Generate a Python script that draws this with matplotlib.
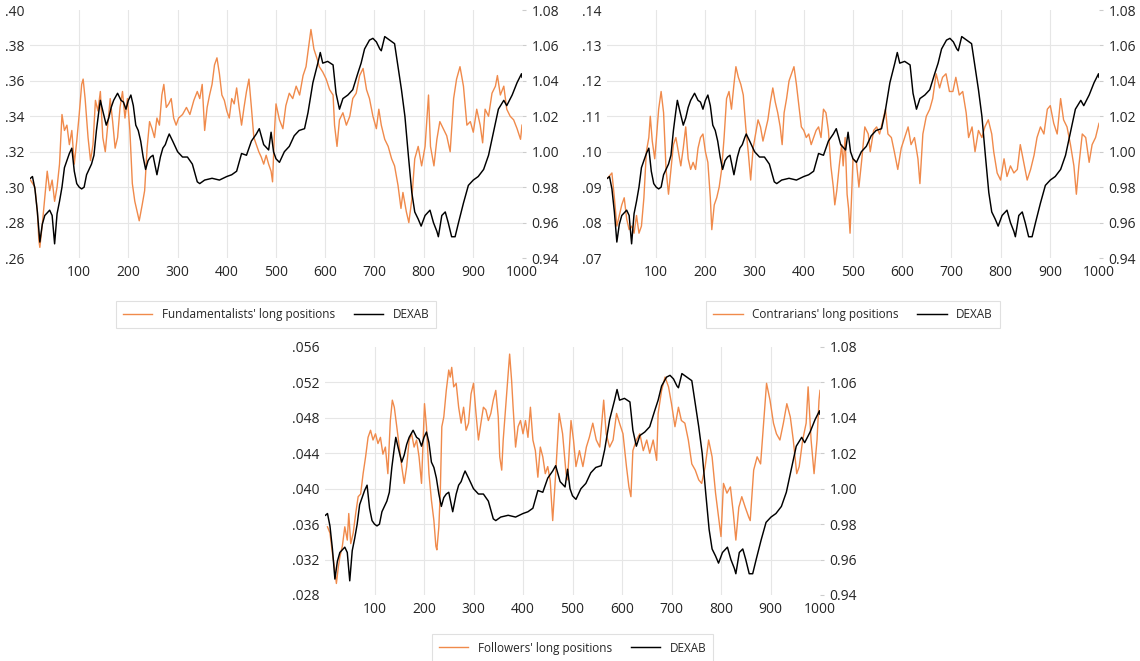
import numpy as np
import matplotlib.pyplot as plt
from matplotlib.lines import Line2D

plt.rcParams['font.family'] = ['Open Sans', 'DejaVu Sans']

ORANGE = '#F08A4B'
GRID = '#e6e6e6'
TEXT = '#262626'

# DEXAB exchange rate (same series in all three panels, right axis)
dexab_x = [1, 5, 10, 15, 20, 25, 30, 40, 45, 50, 55, 60, 65, 70, 80, 85, 90, 95, 100, 105,
           110, 115, 120, 125, 130, 135, 140, 143, 148, 155, 160, 165, 170, 178, 185, 190, 195, 200, 205, 210,
           215, 220, 225, 230, 235, 240, 245, 250, 255, 258, 265, 270, 275, 280, 283, 290, 300, 310, 320, 330,
           340, 345, 355, 370, 385, 400, 410, 420, 430, 440, 450, 460, 466, 475, 485, 490, 495, 500, 507, 517,
           527, 537, 547, 558, 565, 575, 585, 590, 595, 605, 616, 622, 629, 636, 646, 656, 666, 673, 680, 690,
           697, 704, 711, 714, 721, 731, 741, 748, 755, 762, 769, 776, 782, 789, 795, 803, 813, 820, 827, 830,
           837, 844, 850, 857, 864, 871, 881, 891, 901, 911, 922, 932, 942, 952, 963, 969, 980, 990, 999, 1000]
dexab_y = [0.985, 0.986, 0.979, 0.966, 0.949, 0.959, 0.964, 0.967, 0.964, 0.948, 0.965, 0.972, 0.980, 0.991, 0.999, 1.002, 0.989, 0.982, 0.980, 0.979,
           0.980, 0.987, 0.990, 0.993, 0.998, 1.012, 1.023, 1.029, 1.023, 1.015, 1.019, 1.025, 1.029, 1.033, 1.029, 1.028, 1.024, 1.029, 1.032, 1.026,
           1.015, 1.012, 1.006, 0.997, 0.990, 0.995, 0.997, 0.998, 0.991, 0.987, 0.997, 1.002, 1.004, 1.008, 1.010, 1.006, 1.000, 0.997, 0.997, 0.993,
           0.983, 0.982, 0.984, 0.985, 0.984, 0.986, 0.987, 0.989, 0.999, 0.998, 1.006, 1.010, 1.013, 1.004, 1.001, 1.011, 1.000, 0.996, 0.994, 1.000,
           1.003, 1.009, 1.012, 1.013, 1.022, 1.039, 1.050, 1.056, 1.050, 1.051, 1.049, 1.033, 1.024, 1.030, 1.032, 1.035, 1.044, 1.050, 1.058, 1.063,
           1.064, 1.062, 1.058, 1.057, 1.065, 1.063, 1.061, 1.048, 1.035, 1.020, 0.998, 0.977, 0.966, 0.962, 0.958, 0.964, 0.967, 0.960, 0.955, 0.952,
           0.964, 0.966, 0.960, 0.952, 0.952, 0.960, 0.971, 0.981, 0.984, 0.986, 0.990, 0.998, 1.011, 1.024, 1.029, 1.026, 1.032, 1.039, 1.044, 1.042]

# Fundamentalists' long positions
fund_x = [1, 10, 15, 18, 20, 25, 30, 35, 40, 45, 50, 55, 60, 65, 70, 75, 80, 85, 90, 95,
          100, 105, 108, 112, 118, 123, 128, 133, 138, 143, 148, 153, 158, 163, 168, 173, 178, 183, 188, 193,
          198, 203, 208, 213, 218, 222, 228, 233, 238, 243, 248, 253, 258, 263, 268, 272, 277, 282, 287, 292,
          297, 302, 310, 318, 325, 333, 340, 345, 350, 355, 360, 365, 370, 375, 380, 385, 390, 395, 400, 405,
          410, 415, 420, 425, 430, 435, 440, 445, 450, 455, 460, 465, 470, 475, 480, 485, 490, 493, 497, 500,
          507, 514, 520, 527, 534, 541, 548, 555, 561, 568, 571, 577, 584, 588, 595, 602, 609, 616, 619, 624,
          629, 636, 643, 650, 656, 663, 670, 677, 684, 690, 697, 704, 709, 714, 721, 728, 735, 741, 748, 754,
          758, 765, 770, 776, 782, 789, 796, 803, 810, 814, 821, 827, 833, 840, 847, 854, 861, 867, 874, 881,
          888, 895, 901, 908, 915, 920, 925, 932, 939, 946, 950, 956, 963, 969, 976, 983, 990, 997, 1000]
fund_y = [.304, .300, .286, .270, .266, .279, .294, .309, .298, .304, .292, .300, .313, .341, .332, .335, .324, .332, .313, .326,
          .341, .358, .361, .350, .328, .315, .324, .349, .343, .354, .328, .320, .335, .350, .337, .322, .328, .345, .354, .339,
          .350, .332, .302, .292, .286, .281, .290, .298, .322, .337, .333, .328, .339, .335, .352, .358, .345, .347, .350, .339,
          .335, .339, .341, .345, .341, .349, .354, .350, .358, .332, .345, .352, .358, .369, .373, .364, .352, .349, .343, .339,
          .350, .347, .356, .345, .335, .345, .354, .361, .345, .328, .324, .320, .317, .313, .318, .313, .309, .303, .332, .347,
          .338, .333, .346, .353, .350, .357, .352, .363, .368, .383, .389, .378, .372, .368, .365, .361, .355, .352, .335, .323,
          .338, .342, .335, .340, .350, .353, .363, .367, .355, .350, .340, .333, .344, .335, .327, .323, .316, .312, .301, .288,
          .297, .286, .280, .293, .316, .323, .312, .323, .352, .323, .312, .327, .337, .333, .329, .320, .350, .361, .368, .357,
          .335, .337, .331, .344, .335, .325, .344, .340, .353, .357, .363, .352, .357, .344, .340, .338, .333, .327, .335]

# Contrarians' long positions
contr_x = [1, 10, 15, 20, 25, 30, 35, 40, 45, 50, 55, 60, 65, 70, 75, 80, 85, 88, 92, 97,
           100, 105, 110, 115, 120, 125, 130, 135, 140, 145, 150, 155, 160, 165, 170, 175, 180, 185, 190, 195,
           200, 205, 210, 213, 218, 223, 228, 233, 238, 243, 248, 253, 258, 262, 267, 272, 277, 282, 287, 292,
           297, 302, 307, 312, 317, 322, 327, 332, 337, 342, 347, 352, 356, 360, 365, 370, 375, 380, 385, 390,
           395, 400, 405, 410, 415, 420, 425, 430, 435, 440, 445, 450, 455, 460, 463, 467, 472, 477, 480, 484,
           488, 491, 494, 497, 500, 507, 512, 518, 524, 531, 535, 542, 548, 554, 561, 566, 571, 578, 584, 591,
           598, 605, 612, 618, 625, 632, 636, 642, 649, 656, 662, 669, 676, 682, 689, 696, 703, 709, 716, 723,
           730, 735, 742, 748, 755, 762, 768, 775, 782, 786, 793, 800, 807, 813, 820, 827, 834, 840, 847, 854,
           861, 868, 874, 881, 888, 895, 901, 908, 915, 922, 928, 935, 942, 949, 954, 959, 966, 973, 980, 986,
           993, 1000]
contr_y = [.0925, .094, .087, .079, .082, .085, .087, .081, .078, .079, .077, .082, .077, .079, .087, .100, .104, .110, .103, .098,
           .103, .112, .117, .111, .095, .088, .095, .102, .104, .100, .096, .101, .107, .098, .095, .097, .095, .101, .104, .105,
           .100, .097, .087, .078, .085, .087, .090, .095, .104, .115, .117, .112, .119, .124, .121, .119, .116, .107, .100, .092,
           .101, .105, .109, .107, .103, .106, .109, .114, .118, .114, .111, .107, .102, .111, .115, .120, .122, .124, .119, .113,
           .107, .106, .104, .105, .102, .104, .106, .107, .104, .112, .111, .106, .096, .090, .085, .089, .096, .102, .096, .104,
           .088, .084, .077, .087, .098, .097, .090, .098, .107, .105, .100, .106, .107, .105, .109, .112, .105, .104, .100, .095,
           .101, .104, .107, .102, .104, .098, .091, .105, .110, .112, .115, .122, .118, .121, .122, .117, .117, .121, .116, .117,
           .111, .104, .107, .100, .106, .104, .107, .109, .105, .100, .094, .092, .098, .093, .096, .094, .095, .102, .097, .092,
           .095, .099, .104, .107, .105, .112, .113, .108, .105, .115, .109, .107, .102, .096, .088, .096, .105, .104, .097, .102,
           .104, .108]

# Followers' long positions
foll_x = [5, 10, 15, 20, 23, 27, 30, 35, 40, 45, 48, 52, 57, 62, 67, 72, 77, 82, 87, 92,
          97, 102, 107, 112, 117, 122, 127, 132, 136, 140, 145, 150, 155, 160, 165, 170, 175, 180, 185, 190,
          195, 198, 201, 205, 210, 215, 220, 224, 226, 230, 233, 236, 240, 245, 250, 253, 256, 260, 265, 270,
          275, 280, 285, 290, 295, 300, 305, 310, 315, 320, 325, 330, 335, 340, 345, 350, 353, 357, 360, 365,
          370, 373, 377, 380, 385, 390, 395, 400, 405, 410, 415, 420, 425, 430, 435, 440, 445, 450, 455,
          460, 466, 473, 480, 487, 490, 497, 502, 507, 514, 521, 528, 534, 541, 548, 555, 563, 568, 575, 582,
          589, 595, 602, 609, 614, 618, 622, 629, 636, 643, 650, 656, 663, 670, 673, 680, 687, 694, 700, 707,
          714, 720, 727, 734, 741, 748, 755, 761, 768, 775, 782, 789, 795, 800, 805, 812, 819, 825, 830, 836,
          842, 849, 856, 859, 866, 873, 880, 886, 892, 899, 906, 912, 919, 926, 933, 940, 946, 953, 958, 965,
          972, 976, 982, 988, 994, 998, 1000]
foll_y = [.0357, .0350, .0327, .0308, .0293, .0312, .0323, .0335, .0357, .0342, .0372, .0338, .0350, .0372, .0391, .0394, .0417, .0436, .0458, .0466,
          .0455, .0462, .0451, .0458, .0439, .0447, .0417, .0477, .0500, .0492, .0470, .0447, .0425, .0406, .0425, .0455, .0462, .0447, .0455, .0436,
          .0406, .0451, .0496, .0470, .0417, .0387, .0364, .0335, .0331, .0357, .0398, .0470, .0481, .0511, .0534, .0526, .0537, .0515, .0519, .0492,
          .0474, .0492, .0466, .0474, .0507, .0519, .0485, .0455, .0474, .0492, .0489, .0477, .0485, .0500, .0511, .0481, .0436, .0421, .0455, .0492,
          .0530, .0552, .0522, .0492, .0447, .0470, .0477, .0462, .0477, .0458, .0492, .0455, .0443, .0413, .0447, .0436, .0417, .0425, .0409,
          .0364, .0417, .0485, .0462, .0417, .0410, .0477, .0455, .0425, .0443, .0425, .0447, .0458, .0474, .0455, .0447, .0500, .0462, .0447, .0455,
          .0485, .0474, .0462, .0425, .0402, .0391, .0443, .0455, .0462, .0443, .0455, .0440, .0455, .0432, .0485, .0511, .0526, .0515, .0496, .0470,
          .0492, .0477, .0474, .0455, .0428, .0421, .0410, .0406, .0425, .0455, .0436, .0395, .0368, .0346, .0406, .0395, .0402, .0372, .0342, .0379,
          .0391, .0379, .0368, .0364, .0421, .0436, .0428, .0474, .0519, .0500, .0474, .0462, .0455, .0474, .0496, .0481, .0455, .0417, .0425, .0455,
          .0474, .0515, .0455, .0417, .0455, .0500, .0511]

right_ticks = [0.94, 0.96, 0.98, 1.00, 1.02, 1.04, 1.06, 1.08]
x_ticks = [100, 200, 300, 400, 500, 600, 700, 800, 900, 1000]

W, H = 1140, 661
fig = plt.figure(figsize=(W / 100, H / 100), dpi=100)


def left_label(v, digits):
    return f"{v:.{digits}f}".lstrip('0')


def draw_panel(px_left, px_top, px_width, xs, ys, y_ticks, digits, label, legend_y):
    # axes rectangle from pixel position
    px_height = 248
    rect = [px_left / W, (H - px_top - px_height) / H, px_width / W, px_height / H]
    ax = fig.add_axes(rect)
    ax2 = ax.twinx()

    ax.plot(xs, ys, color=ORANGE, lw=1.0)
    ax2.plot(dexab_x, dexab_y, color='black', lw=1.05)

    ax.set_xlim(0, 1000)
    ax.set_ylim(y_ticks[0], y_ticks[-1])
    ax2.set_ylim(right_ticks[0], right_ticks[-1])

    # gridlines
    for v in y_ticks[1:-1]:
        ax.axhline(v, color=GRID, lw=0.8, zorder=0)
    for v in x_ticks[:-1]:
        ax.axvline(v, color=GRID, lw=0.8, zorder=0)

    ax.set_xticks(x_ticks)
    ax.set_xticklabels([str(v) for v in x_ticks])
    ax.set_yticks(y_ticks)
    ax.set_yticklabels([left_label(v, digits) for v in y_ticks])
    ax2.set_yticks(right_ticks)
    ax2.set_yticklabels([f"{v:.2f}" for v in right_ticks])

    for a in (ax, ax2):
        for s in a.spines.values():
            s.set_visible(False)
    ax.tick_params(axis='both', length=0, labelsize=10, colors=TEXT)
    ax.tick_params(axis='y', pad=4)
    ax.tick_params(axis='x', pad=5)
    # small grey ticks on the right axis, like the original
    ax2.tick_params(axis='y', length=3, width=0.8, color='#cccccc', labelsize=10,
                    labelcolor=TEXT, pad=4)

    handles = [Line2D([], [], color=ORANGE, lw=1.0), Line2D([], [], color='black', lw=1.05)]
    leg = ax2.legend(handles, [label, 'DEXAB'], loc='center', bbox_to_anchor=(0.5, legend_y),
                     ncol=2, frameon=True, fancybox=False, fontsize=8.5, handlelength=2.5,
                     columnspacing=1.6, borderpad=0.6, handletextpad=0.8)
    leg.get_frame().set_edgecolor('#d9d9d9')
    leg.get_frame().set_linewidth(0.8)
    for t in leg.get_texts():
        t.set_color(TEXT)


draw_panel(30, 10, 492,  fund_x, fund_y,
           [.26, .28, .30, .32, .34, .36, .38, .40], 2,
           "Fundamentalists' long positions", -0.228)
draw_panel(607, 10, 492, contr_x, contr_y,
           [.07, .08, .09, .10, .11, .12, .13, .14], 2,
           "Contrarians' long positions", -0.228)
draw_panel(325, 347, 495, foll_x, foll_y,
           [.028, .032, .036, .040, .044, .048, .052, .056], 3,
           "Followers' long positions", -0.214)

plt.savefig('out.png', dpi=100)
plt.close()
